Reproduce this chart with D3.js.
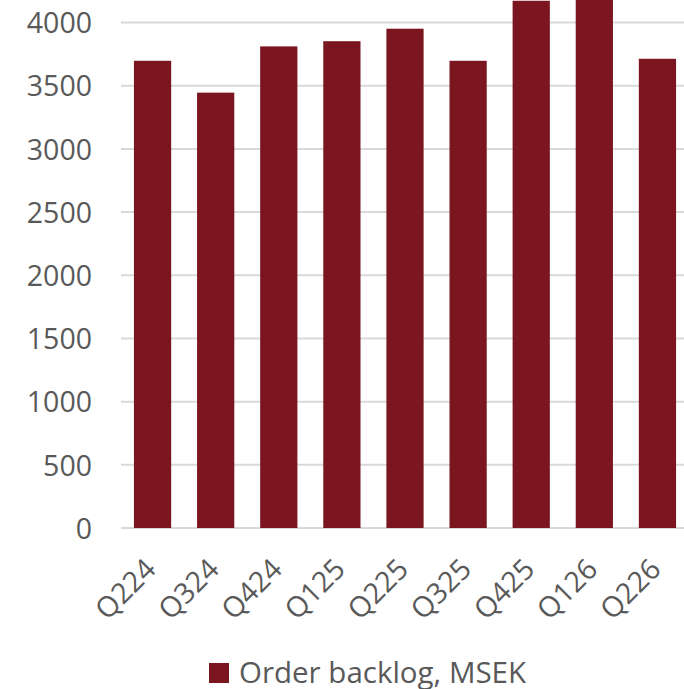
<!DOCTYPE html>
<html>
<head>
<meta charset="utf-8">
<script src="https://cdn.jsdelivr.net/npm/d3@7"></script>
<style>
  html, body { margin: 0; padding: 0; background: #fff; }
  svg { display: block; }
</style>
</head>
<body>
<div id="chart"></div>
<script>
const quarters = ["Q224", "Q324", "Q424", "Q125", "Q225", "Q325", "Q425", "Q126", "Q226"];
const backlog = [3697, 3445, 3811, 3852, 3951, 3697, 4172, 4230, 3713];
const yTicks = [0, 500, 1000, 1500, 2000, 2500, 3000, 3500, 4000];
const seriesName = "Order backlog, MSEK";

const width = 684, height = 689;
const font = "'Open Sans', sans-serif";
const textColor = "#595959";
const barColor = "#7b1620";

const svg = d3.select("#chart").append("svg")
  .attr("width", width).attr("height", height);

const x = d3.scaleBand().domain(quarters).range([121, 689]).paddingInner(0.41).paddingOuter(0.205);
const y = d3.scaleLinear().domain([0, 4000]).range([528, 22.5]);

// ── gridlines ────────────────────────────────────────────────
svg.append("g")
  .selectAll("line")
  .data(yTicks)
  .join("line")
  .attr("x1", 121).attr("x2", width)
  .attr("y1", (d) => y(d)).attr("y2", (d) => y(d))
  .attr("stroke", "#d9d9d9").attr("stroke-width", 2);

// ── y labels ─────────────────────────────────────────────────
const yAxis = svg.append("g")
  .attr("transform", "translate(92,0)")
  .call(d3.axisLeft(y).tickValues(yTicks).tickSize(0).tickPadding(0).tickFormat(d3.format("d")));
yAxis.select(".domain").remove();
yAxis.selectAll("text")
  .attr("font-family", font).attr("font-size", "28.5px").attr("fill", textColor)
  .attr("dy", "0.36em");

// ── bars ─────────────────────────────────────────────────────
svg.append("g")
  .selectAll("rect")
  .data(quarters)
  .join("rect")
  .attr("x", (d) => x(d))
  .attr("width", x.bandwidth())
  .attr("y", (d, i) => y(backlog[i]))
  .attr("height", (d, i) => y(0) - y(backlog[i]))
  .attr("fill", barColor);

// ── x labels ─────────────────────────────────────────────────
const xAxis = svg.append("g")
  .attr("transform", `translate(0,${y(0)})`)
  .call(d3.axisBottom(x).tickSize(0).tickPadding(0));
xAxis.select(".domain").remove();
xAxis.selectAll("text")
  .attr("font-family", font).attr("font-size", "28.5px").attr("fill", textColor)
  .attr("text-anchor", "end")
  .attr("dy", 0).attr("y", 0)
  .attr("transform", "translate(5,43) rotate(-45)");

// ── legend ───────────────────────────────────────────────────
const legend = svg.append("g").attr("transform", "translate(209,663)");
legend.append("rect").attr("width", 20).attr("height", 20).attr("fill", barColor);
legend.append("text")
  .attr("x", 30).attr("y", 20)
  .attr("font-family", font).attr("font-size", "29.5px").attr("fill", textColor)
  .text(seriesName);
</script>
</body>
</html>
